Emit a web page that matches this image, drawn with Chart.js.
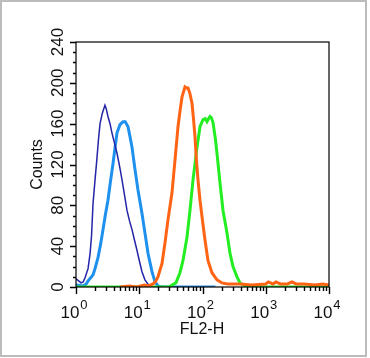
<!DOCTYPE html>
<html>
<head>
<meta charset="utf-8">
<script src="https://cdn.jsdelivr.net/npm/chart.js@4"></script>
<style>
  html, body { margin: 0; padding: 0; background: #fff; }
  canvas { display: block; }
</style>
</head>
<body>
<canvas id="histChart" width="370" height="358"></canvas>
<script>
// --- Data (x = FL2-H channel, y = counts) ---
const navyX = [1.0, 1.1, 1.2, 1.3, 1.39, 1.55, 1.67, 1.76, 1.86, 2.0, 2.15, 2.27, 2.4, 2.6, 2.87, 3.0, 3.2, 3.45, 3.7, 4.1, 4.45, 4.9, 5.34, 5.85, 6.4, 7.0, 7.7, 8.4, 9.2, 10.1, 11.05, 12.3, 13.7, 14.8, 16, 30];
const navyY = [8, 6, 4, 5, 9, 18, 33, 50, 82, 105, 127, 145, 160, 170, 178, 175, 167, 160, 151, 140, 131, 118, 105, 90, 75, 65, 56, 46, 36, 25, 15, 7, 3, 1, 0, 0];

const lightBlueX = [1.0, 1.3, 1.45, 1.55, 1.76, 1.86, 2.0, 2.23, 2.45, 2.67, 2.9, 3.2, 3.5, 3.85, 4.15, 4.45, 4.96, 5.54, 6.0, 6.64, 7.1, 7.68, 8.57, 9.55, 11.05, 12.3, 13.75, 15.9, 17.75, 19.8, 22, 160];
const lightBlueY = [2, 1, 3, 6, 10, 12, 18, 29, 42, 56, 70, 85, 103, 121, 137, 151, 159, 162, 162, 157, 148, 137, 115, 95, 72, 53, 33, 15, 5, 1, 0, 0];

const orangeX = [5, 7, 9, 12, 14, 16.5, 18, 19.8, 22.9, 25.5, 28.5, 32.9, 36.7, 41, 44, 47.4, 52.9, 56, 59, 63, 68.2, 72, 76.1, 80, 84.9, 91.3, 98.2, 109.5, 122, 141, 169.5, 203, 250, 400, 600, 1000, 1100, 1300, 1450, 1700, 2200, 2600, 3000, 4000, 6000, 8000, 10000];
const orangeY = [0, 1, 0, 2, 1, 3, 5, 10, 23, 43, 66, 92, 124, 157, 172, 186, 196, 195, 195, 190, 180, 165, 147, 125, 105, 85, 69, 46, 26, 14, 7, 4, 3, 3, 2, 3, 5, 3, 5, 3, 3, 5, 3, 3, 2, 3, 2];

const greenX = [1.0, 30, 33, 38, 44, 49.2, 56.9, 63.4, 70.8, 81.9, 91.3, 101.8, 110, 117.8, 125, 131.4, 138, 146.6, 160, 169.5, 189, 211, 244, 272, 303.5, 351, 392, 470, 550, 10000];
const greenY = [0, 0, 2, 4, 14, 26, 49, 75, 105, 137, 157, 164, 165, 162, 165, 167, 166, 161, 145, 131, 102, 75, 53, 33, 20, 10, 4, 1, 0, 0];

// --- Axis ticks ---
const yTicks = [0, 40, 80, 120, 160, 200, 240];
const xDecades = [1, 10, 100, 1000, 10000];
const xExponents = ['0', '1', '2', '3', '4'];

function toPoints(xs, ys) {
    return xs.map((x, i) => ({ x: x, y: ys[i] }));
}

const FONT = '"Liberation Sans", Arial, Helvetica, sans-serif';

// Draws the frame, tick marks and labels the way the cytometry software does
const axesPlugin = {
    id: 'facsAxes',
    afterDraw(chart) {
        const ctx = chart.ctx;
        const xs = chart.scales.x;
        const ys = chart.scales.y;
        const area = chart.chartArea;

        ctx.save();

        // outer gray border of the picture
        ctx.strokeStyle = '#bcbcbc';
        ctx.lineWidth = 2;
        ctx.strokeRect(1, 1, 365, 355);

        // plot frame
        ctx.strokeStyle = '#000';
        ctx.lineWidth = 1.2;
        ctx.strokeRect(area.left, area.top, area.right - area.left, area.bottom - area.top);

        // y ticks: major every 40, minor every 10
        ctx.lineWidth = 1.4;
        ctx.beginPath();
        for (let v = 0; v <= 240; v += 10) {
            const py = Math.round(ys.getPixelForValue(v)) + 0.5;
            const len = (v % 40 === 0) ? 6 : 3;
            ctx.moveTo(area.left - len, py);
            ctx.lineTo(area.left, py);
        }
        // x ticks: decades major, 2..9 minor
        xDecades.forEach((d, i) => {
            const px = Math.round(xs.getPixelForValue(d)) + 0.5;
            ctx.moveTo(px, area.bottom);
            ctx.lineTo(px, area.bottom + 7);
            if (i < xDecades.length - 1) {
                for (let m = 2; m <= 9; m++) {
                    const mx = Math.round(xs.getPixelForValue(d * m)) + 0.5;
                    ctx.moveTo(mx, area.bottom);
                    ctx.lineTo(mx, area.bottom + 4);
                }
            }
        });
        ctx.stroke();

        ctx.fillStyle = '#111';

        // y tick labels, rotated
        ctx.font = '17px ' + FONT;
        ctx.textAlign = 'center';
        ctx.textBaseline = 'alphabetic';
        yTicks.forEach(v => {
            const py = ys.getPixelForValue(v);
            ctx.save();
            ctx.translate(63, py);
            ctx.rotate(-Math.PI / 2);
            ctx.fillText(String(v), 0, 0);
            ctx.restore();
        });

        // y axis title
        ctx.save();
        ctx.translate(42, (area.top + area.bottom) / 2);
        ctx.rotate(-Math.PI / 2);
        ctx.font = '16px ' + FONT;
        ctx.fillText('Counts', 0, 0);
        ctx.restore();

        // x tick labels 10^n
        xDecades.forEach((d, i) => {
            const px = xs.getPixelForValue(d);
            ctx.font = '17px ' + FONT;
            const wBase = ctx.measureText('10').width;
            ctx.font = '13px ' + FONT;
            const wExp = ctx.measureText(xExponents[i]).width;
            const start = px - 2 - (wBase + wExp + 1) / 2;
            ctx.textAlign = 'left';
            ctx.font = '17px ' + FONT;
            ctx.fillText('10', start, 318);
            ctx.font = '13px ' + FONT;
            ctx.fillText(xExponents[i], start + wBase + 1, 309);
        });

        // x axis title
        ctx.font = '16px ' + FONT;
        ctx.textAlign = 'center';
        ctx.fillText('FL2-H', 202, 334);

        ctx.restore();
    }
};

const ctx = document.getElementById('histChart').getContext('2d');
new Chart(ctx, {
    type: 'line',
    data: {
        datasets: [
            {
                label: 'isotype',
                data: toPoints(navyX, navyY),
                borderColor: '#2424a8',
                borderWidth: 1.5,
                pointRadius: 0,
                tension: 0,
                order: 2
            },
            {
                label: 'control',
                data: toPoints(lightBlueX, lightBlueY),
                borderColor: '#1e90ee',
                borderWidth: 3,
                pointRadius: 0,
                tension: 0,
                order: 3
            },
            {
                label: 'sample 1',
                data: toPoints(orangeX, orangeY),
                borderColor: '#ff6414',
                borderWidth: 3,
                pointRadius: 0,
                tension: 0,
                order: 0
            },
            {
                label: 'sample 2',
                data: toPoints(greenX, greenY),
                borderColor: '#22ee22',
                borderWidth: 3,
                pointRadius: 0,
                tension: 0,
                order: 1
            }
        ]
    },
    options: {
        responsive: false,
        animation: false,
        devicePixelRatio: 1,
        layout: {
            padding: { left: 76, top: 42, right: 41, bottom: 71 }
        },
        plugins: {
            legend: { display: false },
            tooltip: { enabled: false }
        },
        scales: {
            x: { type: 'logarithmic', min: 1, max: 10000, display: false },
            y: { type: 'linear', min: 0, max: 240, display: false }
        }
    },
    plugins: [axesPlugin]
});
</script>
</body>
</html>
